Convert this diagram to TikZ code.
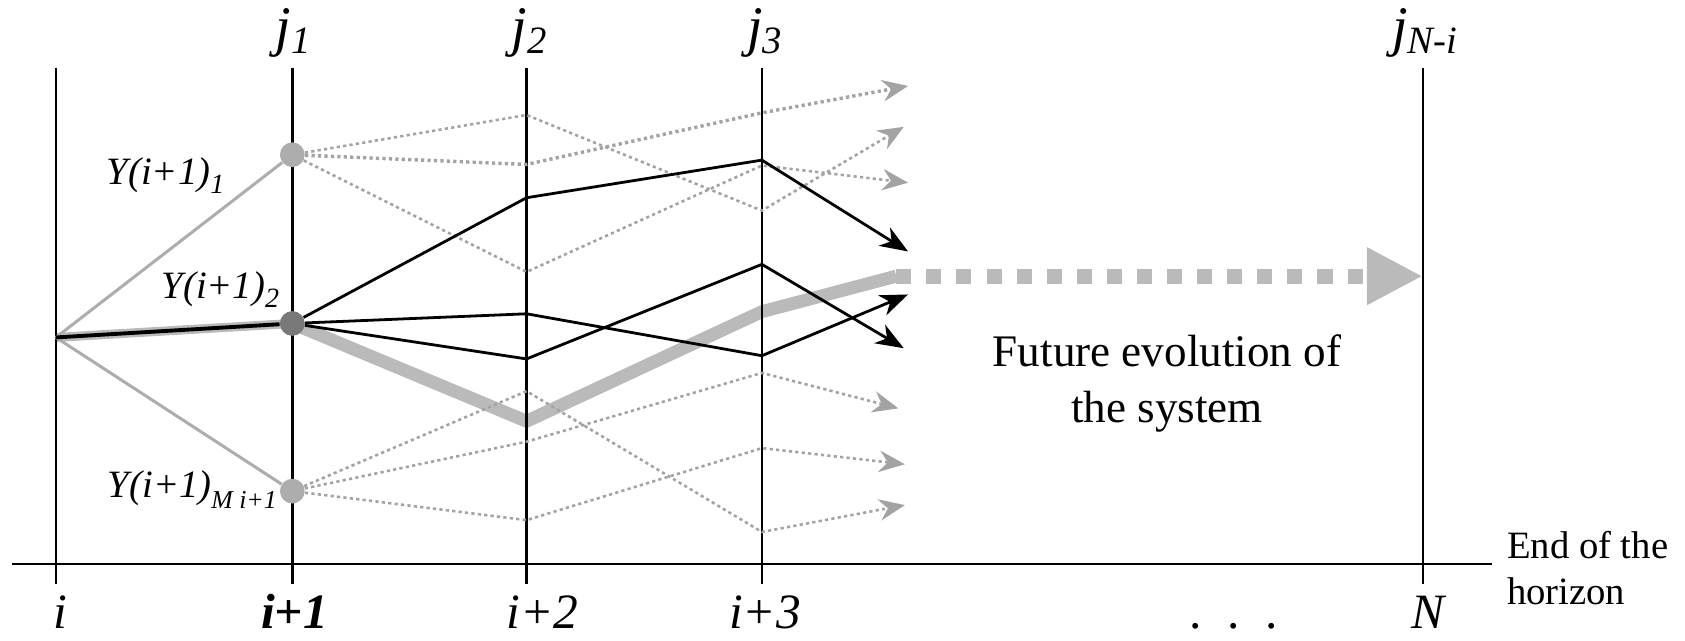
\documentclass[tikz,border=0pt]{standalone}
\usepackage{fontspec}
\setmainfont{Liberation Serif}
\usetikzlibrary{arrows.meta}
\pgfdeclarelayer{bg}
\pgfsetlayers{bg,main}
\definecolor{dotgray}{gray}{0.64}
\definecolor{bandgray}{gray}{0.73}
\definecolor{nodegray}{gray}{0.68}
\definecolor{darknode}{gray}{0.47}
\newcommand\dn[3]{\raisebox{-#2}{\fontsize{#1}{#1}\selectfont #3}}
\begin{document}
\begin{tikzpicture}[x=0.5pt,y=-0.5pt,
  vline/.style={line width=1pt},
  band/.style={draw=bandgray, line width=6pt, line join=round},
  thinband/.style={draw=bandgray, line width=4.2pt},
  glines/.style={draw=nodegray, line width=1.4pt},
  bpath/.style={line width=1.3pt, line join=miter, -{Stealth[length=13pt,width=10pt,inset=4pt]}},
  dpath/.style={draw=dotgray, line width=1.2pt, dash pattern=on 1.5pt off 1.5pt, -{Stealth[length=12pt,width=10pt,inset=4pt]}},
  dotnode/.style={circle, minimum size=11.5pt, inner sep=0pt},
  tlabel/.style={font=\fontsize{26}{30}\selectfont\itshape, inner sep=0pt, anchor=base west},
  ylabel/.style={font=\fontsize{18}{21}\selectfont\itshape, inner sep=0pt, anchor=base west},
  blabel/.style={font=\fontsize{23}{27}\selectfont\itshape, inner sep=0pt, anchor=base},
  txt/.style={font=\fontsize{21}{26}\selectfont, inner sep=0pt}]
\useasboundingbox (0,0) rectangle (1568,596);

% nodes
\node[dotnode, fill=nodegray] (y1) at (272,144) {};
\node[dotnode, fill=darknode] (y2) at (272,301) {};
\node[dotnode, fill=nodegray] (ym) at (272,457) {};
\coordinate (o) at (52,314);

% path points
\coordinate (ua2) at (490,107); \coordinate (ua3) at (709,196); \coordinate (uae) at (841,118);
\coordinate (ub2) at (490,153); \coordinate (ub3) at (709,105); \coordinate (ube) at (845,80);
\coordinate (uc2) at (490,253); \coordinate (uc3) at (709,154); \coordinate (uce) at (845,170);
\coordinate (ba2) at (490,184); \coordinate (ba3) at (709,149); \coordinate (bae) at (845,234);
\coordinate (bb2) at (490,292); \coordinate (bb3) at (709,331); \coordinate (bbe) at (845,274);
\coordinate (bc2) at (490,334); \coordinate (bc3) at (709,246); \coordinate (bce) at (841,324);
\coordinate (la2) at (490,364); \coordinate (la3) at (709,495); \coordinate (lae) at (842,470);
\coordinate (lb2) at (490,411); \coordinate (lb3) at (709,347); \coordinate (lbe) at (836,380);
\coordinate (lc2) at (490,484); \coordinate (lc3) at (709,417); \coordinate (lce) at (842,432);
\coordinate (g2) at (490,392); \coordinate (g3) at (709,290); \coordinate (g4) at (834,257);
\coordinate (tip) at (1324,257);
\coordinate (axl) at (11,525); \coordinate (axr) at (1388,525);

\begin{pgfonlayer}{bg}
  \draw[thinband] (o) -- (y2.center);
  \draw[band] (y2.center) -- (g2) -- (g3) -- (g4);
  \foreach \n/\x/\w in {a/52/1pt,b/272/1.3pt,c/490/1pt,d/709/1pt,e/1324/1pt}{
    \coordinate (top\n) at (\x,63);
    \coordinate (bot\n) at (\x,543);
    \draw[line width=\w] (top\n) -- (bot\n);
  }
  \draw[vline] (axl) -- (axr);
\end{pgfonlayer}

% first step
\draw[glines] (o) -- (y1);
\draw[glines] (o) -- (ym);
\draw[line width=1.8pt] (o) -- (y2);

% dotted futures
\draw[dpath] (y1) -- (ua2) -- (ua3) -- (uae);
\draw[dpath, line width=1.6pt] (y1) -- (ub2) -- (ub3) -- (ube);
\draw[dpath] (y1) -- (uc2) -- (uc3) -- (uce);
\draw[dpath] (ym) -- (la2) -- (la3) -- (lae);
\draw[dpath] (ym) -- (lb2) -- (lb3) -- (lbe);
\draw[dpath] (ym) -- (lc2) -- (lc3) -- (lce);

% black futures
\draw[bpath] (y2) -- (ba2) -- (ba3) -- (bae);
\draw[bpath] (y2) -- (bb2) -- (bb3) -- (bbe);
\draw[bpath] (y2) -- (bc2) -- (bc3) -- (bce);

% future evolution
\draw[draw=bandgray, line width=7pt, dash pattern=on 7pt off 7pt,
      -{Triangle[length=26pt,width=25pt]}] (g4) -- (tip);

% labels
\node[tlabel] (lj1) at (256,42) {j\dn{18pt}{4pt}{1}};
\node[tlabel] (lj2) at (476,42) {j\dn{18pt}{4pt}{2}};
\node[tlabel] (lj3) at (695,42) {j\dn{18pt}{4pt}{3}};
\node[tlabel] (ljn) at (1295,42) {j\dn{18pt}{4pt}{N-i}};

\node[ylabel] (ly1) at (99,172) {Y(i+1)\dn{13pt}{4pt}{1}};
\node[ylabel] (ly2) at (150,278) {Y(i+1)\dn{13pt}{4pt}{2}};
\node[ylabel] (lym) at (100,463) {Y(i+1)\dn{12pt}{5pt}{M i+1}};

\node[blabel] (li) at (56,585) {i};
\node[blabel, font=\fontsize{23}{27}\selectfont\bfseries\itshape] (li1) at (274,585) {i+1};
\node[blabel] (li2) at (505,585) {i+2};
\node[blabel] (li3) at (712,585) {i+3};
\node[blabel, font=\fontsize{23}{27}\selectfont] (ldots) at (1148,585) {.\hspace{12pt}.\hspace{12pt}.};
\node[blabel] (lN) at (1329,585) {N};

\node[txt, align=center] (fut) at (1086,357) {Future evolution of\\the system};
\node[txt, font=\fontsize{18}{21.5}\selectfont, align=left, anchor=north west] (end) at (1402,494) {End of the\\horizon};
\end{tikzpicture}
\end{document}
